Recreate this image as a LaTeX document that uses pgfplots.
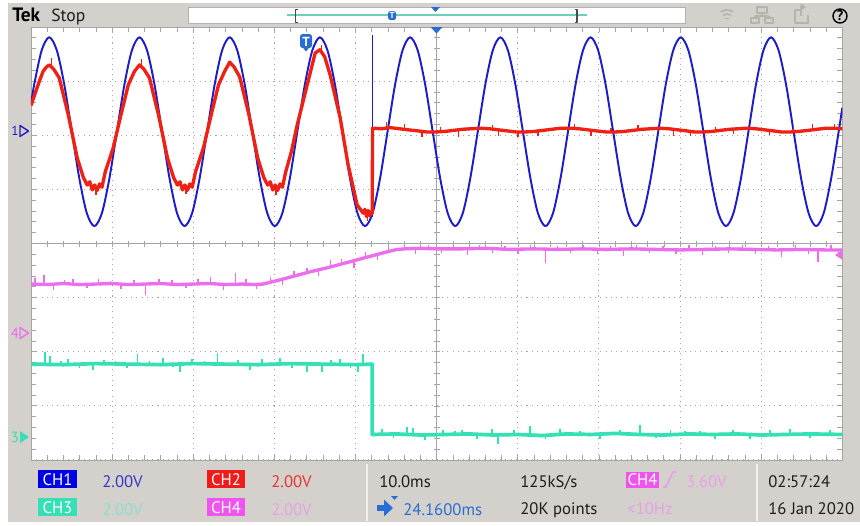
\documentclass[border=0pt]{standalone}
\usepackage{pgfplots}
\pgfplotsset{compat=1.18}
\usepackage{fontspec}
\setmainfont{PT Sans}
\usetikzlibrary{arrows.meta}

\definecolor{panel}{RGB}{212,208,203}
\definecolor{chone}{RGB}{28,28,200}
\definecolor{chtwo}{RGB}{240,32,20}
\definecolor{chthree}{RGB}{52,224,180}
\definecolor{chfour}{RGB}{236,110,236}
\definecolor{gridc}{RGB}{165,165,165}
\definecolor{tekblue}{RGB}{40,110,210}
\definecolor{icon}{RGB}{182,178,174}
\definecolor{txt}{RGB}{30,30,30}
\definecolor{boxone}{RGB}{0,0,228}
\definecolor{boxtwo}{RGB}{240,28,28}
\definecolor{boxthree}{RGB}{52,224,180}
\definecolor{boxfour}{RGB}{240,84,240}
\definecolor{valone}{RGB}{55,55,205}
\definecolor{valtwo}{RGB}{232,52,52}
\definecolor{valthree}{RGB}{140,222,202}
\definecolor{valfour}{RGB}{232,160,232}

\begin{document}
\begin{tikzpicture}[line join=round]
% ---- frame, drawn in screen pixels (y down)
\begin{scope}[x=0.02cm,y=-0.02cm]
\path[use as bounding box] (0,0) rectangle (860,525);
\fill[white] (0,0) rectangle (860,525);
\fill[panel] (8,3) rectangle (860,522);
\fill[white] (31,27) rectangle (842.5,460);
% centre cross with fine ticks
\draw[gridc,line width=0.5pt] (31,243.5) -- (842.5,243.5) (436.5,27) -- (436.5,460);
\foreach \k in {0,...,50} \draw[gridc,line width=0.4pt] ({31+\k*16.23},240.5) -- ({31+\k*16.23},246.5);
\foreach \k in {0,...,40} \draw[gridc,line width=0.4pt] (433.5,{27+\k*10.825}) -- (439.5,{27+\k*10.825});
\end{scope}

\begin{axis}[
    at={(0.62cm,-9.2cm)}, anchor=south west,
    scale only axis, width=16.23cm, height=8.66cm,
    xmin=-50, xmax=50, ymin=-4, ymax=4,
    xtick={-50,-40,...,50}, ytick={-4,-3,...,4},
    minor x tick num=4, minor y tick num=4,
    xticklabels={}, yticklabels={},
    tick align=inside, major tick length=0.1cm, minor tick length=0.1cm,
    tick style={gridc,line width=0.4pt},
    grid=major, major grid style={gridc,line width=0.5pt,dash pattern=on 0.6pt off 2.4pt},
    axis line style={gridc},
    unbounded coords=jump,
]
% CH1
\addplot[chone, line width=1.1pt, smooth] coordinates {
 (-50.00,2.58) (-49.60,2.94) (-48.68,3.57)
 (-47.75,3.81) (-46.82,3.57) (-45.90,2.94) (-44.97,2.07) (-44.04,1.20) (-43.12,0.56) (-42.19,0.32) (-41.26,0.56) (-40.34,1.20) (-39.41,2.07) (-38.48,2.94) (-37.56,3.57)
 (-36.63,3.81) (-35.70,3.57) (-34.78,2.94) (-33.85,2.07) (-32.92,1.20) (-32.00,0.56) (-31.07,0.32) (-30.14,0.56) (-29.22,1.20) (-28.29,2.07) (-27.36,2.94) (-26.44,3.57)
 (-25.51,3.81) (-24.58,3.57) (-23.66,2.94) (-22.73,2.07) (-21.80,1.20) (-20.88,0.56) (-19.95,0.32) (-19.02,0.56) (-18.10,1.20) (-17.17,2.07) (-16.24,2.94) (-15.32,3.57)
 (-14.39,3.81) (-13.46,3.57) (-12.54,2.94) (-11.61,2.07) (-10.68,1.20) (-9.76,0.56) (-8.83,0.32) (-7.90,0.56) (-6.98,1.20) (-6.05,2.07) (-5.12,2.94) (-4.20,3.57)
 (-3.27,3.81) (-2.34,3.57) (-1.42,2.94) (-0.49,2.07) (0.44,1.20) (1.36,0.56) (2.29,0.32) (3.22,0.56) (4.14,1.20) (5.07,2.07) (6.00,2.94) (6.92,3.57)
 (7.85,3.81) (8.78,3.57) (9.70,2.94) (10.63,2.07) (11.56,1.20) (12.48,0.56) (13.41,0.32) (14.34,0.56) (15.26,1.20) (16.19,2.07) (17.12,2.94) (18.04,3.57)
 (18.97,3.81) (19.90,3.57) (20.82,2.94) (21.75,2.07) (22.68,1.20) (23.60,0.56) (24.53,0.32) (25.46,0.56) (26.38,1.20) (27.31,2.07) (28.24,2.94) (29.16,3.57)
 (30.09,3.81) (31.02,3.57) (31.94,2.94) (32.87,2.07) (33.80,1.20) (34.72,0.56) (35.65,0.32) (36.58,0.56) (37.50,1.20) (38.43,2.07) (39.36,2.94) (40.28,3.57)
 (41.21,3.81) (42.14,3.57) (43.06,2.94) (43.99,2.07) (44.92,1.20) (45.84,0.56) (46.77,0.32) (47.70,0.56) (48.62,1.20) (49.55,2.07) (50.00,2.51)
};
\addplot[chone, line width=0.7pt] coordinates {(-7.90,0.49) (-7.90,3.85)};
% CH2
\addplot[chtwo, line width=1.9pt] coordinates {
 (-50.00,2.55) (-49.13,2.93) (-48.51,3.18) (-48.10,3.26) (-47.75,3.30) (-47.20,3.22) (-46.52,3.06) (-45.41,2.38) (-44.30,1.58) (-43.55,1.22) (-43.07,1.08) (-42.75,1.14) (-42.45,0.99) (-42.15,1.08) (-41.85,0.98) (-41.55,1.10) (-41.25,1.04) (-40.85,1.32) (-39.86,1.77) (-39.00,2.32) (-38.01,2.93) (-37.25,3.18)
 (-36.63,3.30) (-36.08,3.22) (-35.40,3.06) (-34.29,2.38) (-33.18,1.58) (-32.43,1.22) (-31.95,1.08) (-31.63,1.14) (-31.33,0.99) (-31.03,1.08) (-30.73,0.98) (-30.43,1.10) (-30.13,1.04) (-29.73,1.32) (-28.74,1.77) (-27.88,2.32) (-26.89,2.93) (-26.13,3.18)
 (-25.51,3.35) (-24.96,3.26) (-24.28,3.08) (-23.17,2.40) (-22.06,1.58) (-21.31,1.22) (-20.83,1.08) (-20.51,1.14) (-20.21,0.99) (-19.91,1.08) (-19.61,0.98) (-19.31,1.10) (-19.01,1.04) (-18.61,1.32) (-17.90,1.70) (-17.19,2.19) (-15.96,2.93) (-14.97,3.52)
 (-14.39,3.58) (-13.80,3.45) (-13.12,3.11) (-11.89,2.32) (-10.91,1.45) (-9.80,0.71) (-9.06,0.56) (-8.85,0.63) (-8.65,0.50) (-8.45,0.61) (-8.25,0.51) (-8.05,0.59) (-7.95,0.56)
 (-7.90,2.13) (-6.80,2.12) (-5.73,2.14) (-4.60,2.12) (-3.50,2.10) (-2.30,2.08) (-1.20,2.06) (-0.18,2.06) (1.00,2.07) (2.10,2.09) (3.20,2.11) (4.30,2.12) (5.36,2.13) (6.50,2.12) (7.60,2.10) (8.70,2.08) (9.80,2.06) (10.91,2.06) (12.00,2.07) (13.10,2.09) (14.20,2.11) (15.30,2.13) (16.45,2.13) (17.50,2.12) (18.60,2.10) (19.70,2.08) (20.90,2.06) (22.00,2.06) (23.10,2.07) (24.20,2.09) (25.30,2.11) (26.40,2.12) (27.54,2.13) (28.60,2.12) (29.70,2.10) (30.80,2.08) (31.80,2.06) (32.84,2.06) (33.90,2.07) (35.00,2.09) (36.10,2.11) (37.20,2.12) (38.26,2.13) (39.30,2.12) (40.40,2.10) (41.50,2.08) (42.50,2.06) (43.56,2.06) (44.60,2.07) (45.80,2.09) (46.90,2.11) (48.00,2.13) (49.00,2.13) (50.00,2.12)
};
% CH2 glitches
\addplot[chtwo, line width=0.8pt] coordinates {
 (-47.5,3.28) (-47.5,3.42) (-47.5,nan) (-42.0,1.05) (-42.0,0.90) (-42.0,nan) (-36.4,3.28) (-36.4,3.41) (-36.4,nan) (-30.9,1.05) (-30.9,0.91) (-30.9,nan)
 (-19.8,1.05) (-19.8,0.90) (-19.8,nan) (-14.2,3.55) (-14.2,3.67) (-14.2,nan) (-8.5,0.57) (-8.5,0.42) (-8.5,nan)
 (-6.20,2.13) (-6.20,2.25) (-6.20,nan) (-4.00,2.11) (-4.00,2.20) (-4.00,nan) (-1.80,2.07) (-1.80,1.97) (-1.80,nan) (0.50,2.07) (0.50,2.15) (0.50,nan)
 (2.70,2.10) (2.70,1.97) (2.70,nan) (6.90,2.11) (6.90,2.19) (6.90,nan) (7.60,2.10) (7.60,1.98) (7.60,nan) (10.00,2.06) (10.00,1.96) (10.00,nan)
 (12.50,2.08) (12.50,1.98) (12.50,nan) (17.00,2.13) (17.00,2.20) (17.00,nan) (19.00,2.09) (19.00,1.99) (19.00,nan) (21.50,2.06) (21.50,2.14) (21.50,nan)
 (24.80,2.10) (24.80,2.18) (24.80,nan) (29.20,2.11) (29.20,1.99) (29.20,nan) (31.30,2.07) (31.30,1.98) (31.30,nan) (34.40,2.08) (34.40,2.15) (34.40,nan)
 (36.60,2.11) (36.60,2.03) (36.60,nan) (41.00,2.09) (41.00,2.00) (41.00,nan) (44.00,2.07) (44.00,2.16) (44.00,nan) (46.30,2.10) (46.30,2.20) (46.30,nan)
 (49.00,2.13) (49.00,2.21)
};
% CH4
\addplot[chfour, line width=1.9pt] coordinates {
 (-50,-0.75) (-48,-0.76) (-46,-0.74) (-44,-0.76) (-42,-0.75) (-40,-0.74) (-38,-0.76) (-36,-0.75) (-34,-0.74) (-32,-0.76) (-30,-0.75) (-28,-0.74) (-26,-0.76) (-24,-0.75) (-22.4,-0.76) (-21.4,-0.75)
 (-19.5,-0.68) (-17.5,-0.60) (-15.5,-0.52) (-13.5,-0.45) (-11.5,-0.37) (-9.5,-0.29) (-7.5,-0.21) (-6,-0.15) (-5,-0.115) (-4,-0.10)
 (-2,-0.09) (0,-0.10) (3,-0.10) (6,-0.09) (9,-0.11) (12,-0.10) (15,-0.11) (18,-0.10) (21,-0.11) (24,-0.10) (27,-0.11) (30,-0.12) (33,-0.11) (36,-0.10) (39,-0.11) (42,-0.12) (45,-0.11) (48,-0.12) (50,-0.12)
};
% CH4 glitches
\addplot[chfour, line width=0.8pt] coordinates {
 (-49.5,-0.75) (-49.5,-0.64) (-49.5,nan) (-48.4,-0.75) (-48.4,-0.58) (-48.4,nan) (-47.2,-0.75) (-47.2,-0.86) (-47.2,nan) (-45.9,-0.75) (-45.9,-0.68) (-45.9,nan)
 (-44.8,-0.75) (-44.8,-0.66) (-44.8,nan) (-43.1,-0.75) (-43.1,-0.82) (-43.1,nan) (-41.7,-0.75) (-41.7,-0.66) (-41.7,nan) (-40.2,-0.75) (-40.2,-0.69) (-40.2,nan)
 (-38.9,-0.75) (-38.9,-0.84) (-38.9,nan) (-37.3,-0.75) (-37.3,-0.67) (-37.3,nan) (-35.9,-0.75) (-35.9,-0.95) (-35.9,nan) (-34.2,-0.75) (-34.2,-0.65) (-34.2,nan)
 (-32.6,-0.75) (-32.6,-0.68) (-32.6,nan) (-30.9,-0.75) (-30.9,-0.83) (-30.9,nan) (-29.4,-0.75) (-29.4,-0.66) (-29.4,nan) (-27.9,-0.75) (-27.9,-0.62) (-27.9,nan)
 (-26.3,-0.75) (-26.3,-0.86) (-26.3,nan) (-24.8,-0.75) (-24.8,-0.55) (-24.8,nan) (-23.5,-0.75) (-23.5,-0.66) (-23.5,nan) (-22.2,-0.75) (-22.2,-0.84) (-22.2,nan)
 (-20.5,-0.715) (-20.5,-0.62) (-20.5,nan) (-19.0,-0.658) (-19.0,-0.76) (-19.0,nan) (-17.6,-0.604) (-17.6,-0.50) (-17.6,nan) (-16.0,-0.542) (-16.0,-0.45) (-16.0,nan)
 (-14.6,-0.488) (-14.6,-0.60) (-14.6,nan) (-13.1,-0.430) (-13.1,-0.30) (-13.1,nan) (-11.7,-0.377) (-11.7,-0.28) (-11.7,nan) (-10.2,-0.319) (-10.2,-0.45) (-10.2,nan)
 (-8.8,-0.265) (-8.8,-0.16) (-8.8,nan) (-7.3,-0.207) (-7.3,-0.30) (-7.3,nan) (-5.9,-0.153) (-5.9,-0.06) (-5.9,nan)
 (-4.0,-0.11) (-4.0,-0.02) (-4.0,nan) (-2.6,-0.11) (-2.6,-0.19) (-2.6,nan) (-1.0,-0.11) (-1.0,-0.03) (-1.0,nan) (0.6,-0.11) (0.6,-0.18) (0.6,nan)
 (2.1,-0.11) (2.1,-0.02) (2.1,nan) (3.8,-0.11) (3.8,-0.22) (3.8,nan) (5.3,-0.11) (5.3,-0.03) (5.3,nan) (6.9,-0.11) (6.9,-0.17) (6.9,nan)
 (8.4,-0.11) (8.4,-0.04) (8.4,nan) (10.0,-0.11) (10.0,-0.20) (10.0,nan) (11.6,-0.11) (11.6,-0.03) (11.6,nan) (13.4,-0.11) (13.4,-0.36) (13.4,nan)
 (14.9,-0.11) (14.9,-0.04) (14.9,nan) (16.5,-0.11) (16.5,-0.18) (16.5,nan) (18.1,-0.11) (18.1,-0.02) (18.1,nan) (19.8,-0.11) (19.8,-0.19) (19.8,nan)
 (21.4,-0.11) (21.4,-0.05) (21.4,nan) (23.0,-0.11) (23.0,-0.24) (23.0,nan) (24.6,-0.11) (24.6,-0.03) (24.6,nan) (26.2,-0.11) (26.2,-0.17) (26.2,nan)
 (27.9,-0.11) (27.9,-0.04) (27.9,nan) (29.5,-0.11) (29.5,-0.20) (29.5,nan) (31.1,-0.11) (31.1,-0.03) (31.1,nan) (32.8,-0.11) (32.8,-0.22) (32.8,nan)
 (34.4,-0.11) (34.4,-0.05) (34.4,nan) (36.0,-0.11) (36.0,-0.18) (36.0,nan) (37.7,-0.11) (37.7,-0.02) (37.7,nan) (39.3,-0.11) (39.3,-0.20) (39.3,nan)
 (40.9,-0.11) (40.9,-0.04) (40.9,nan) (42.5,-0.11) (42.5,-0.25) (42.5,nan) (44.2,-0.11) (44.2,-0.03) (44.2,nan) (45.8,-0.11) (45.8,-0.19) (45.8,nan)
 (47.0,-0.11) (47.0,-0.34) (47.0,nan) (48.6,-0.11) (48.6,-0.03) (48.6,nan) (49.5,-0.11) (49.5,-0.20)
};
% CH3
\addplot[chthree, line width=2.1pt] coordinates {
 (-50,-2.23) (-46,-2.24) (-42,-2.22) (-38,-2.23) (-34,-2.24) (-30,-2.22) (-26,-2.23) (-22,-2.24) (-18,-2.22) (-14,-2.23) (-10,-2.24) (-7.95,-2.23)
 (-7.95,-3.53) (-5,-3.52) (-2,-3.54) (1,-3.53) (4,-3.52) (7,-3.54) (10,-3.53) (13,-3.55) (16,-3.52) (19,-3.53) (22,-3.51) (25,-3.53) (28,-3.54) (31,-3.52) (34,-3.53) (37,-3.52) (40,-3.54) (43,-3.53) (46,-3.52) (50,-3.53)
};
% CH3 glitches
\addplot[chthree, line width=0.9pt] coordinates {
 (-48.24,-2.23) (-48.24,-2.01) (-48.24,nan) (-47.63,-2.23) (-47.63,-2.08) (-47.63,nan) (-46.3,-2.23) (-46.3,-2.17) (-46.3,nan) (-45.41,-2.23) (-45.41,-2.14) (-45.41,nan)
 (-44.0,-2.23) (-44.0,-2.30) (-44.0,nan) (-42.33,-2.23) (-42.33,-2.34) (-42.33,nan) (-41.0,-2.23) (-41.0,-2.16) (-41.0,nan) (-39.6,-2.23) (-39.6,-2.18) (-39.6,nan)
 (-38.2,-2.23) (-38.2,-2.31) (-38.2,nan) (-36.88,-2.23) (-36.88,-2.05) (-36.88,nan) (-35.4,-2.23) (-35.4,-2.17) (-35.4,nan) (-33.70,-2.23) (-33.70,-2.11) (-33.70,nan)
 (-32.5,-2.23) (-32.5,-2.29) (-32.5,nan) (-31.61,-2.23) (-31.61,-2.38) (-31.61,nan) (-30.13,-2.23) (-30.13,-2.13) (-30.13,nan) (-28.6,-2.23) (-28.6,-2.17) (-28.6,nan)
 (-27.0,-2.23) (-27.0,-2.02) (-27.0,nan) (-24.5,-2.23) (-24.5,-2.16) (-24.5,nan) (-23.0,-2.23) (-23.0,-2.33) (-23.0,nan) (-21.5,-2.23) (-21.5,-2.13) (-21.5,nan)
 (-19.29,-2.23) (-19.29,-2.11) (-19.29,nan) (-17.8,-2.23) (-17.8,-2.30) (-17.8,nan) (-15.96,-2.23) (-15.96,-2.38) (-15.96,nan) (-14.11,-2.23) (-14.11,-2.37) (-14.11,nan)
 (-13.0,-2.23) (-13.0,-2.15) (-13.0,nan) (-11.89,-2.23) (-11.89,-2.14) (-11.89,nan) (-10.6,-2.23) (-10.6,-2.30) (-10.6,nan) (-9.67,-2.23) (-9.67,-2.37) (-9.67,nan)
 (-9.06,-2.23) (-9.06,-2.05) (-9.06,nan)
 (-6.72,-3.53) (-6.72,-3.42) (-6.72,nan) (-5.3,-3.53) (-5.3,-3.60) (-5.3,nan) (-3.64,-3.53) (-3.64,-3.39) (-3.64,nan) (-2.90,-3.53) (-2.90,-3.41) (-2.90,nan)
 (-1.42,-3.53) (-1.42,-3.64) (-1.42,nan) (0.8,-3.53) (0.8,-3.45) (0.8,nan) (2.28,-3.53) (2.28,-3.46) (2.28,nan) (3.14,-3.53) (3.14,-3.45) (3.14,nan)
 (5.0,-3.53) (5.0,-3.62) (5.0,nan) (6.84,-3.53) (6.84,-3.42) (6.84,nan) (7.58,-3.53) (7.58,-3.70) (7.58,nan) (9.5,-3.53) (9.5,-3.45) (9.5,nan)
 (11.52,-3.53) (11.52,-3.38) (11.52,nan) (13.4,-3.53) (13.4,-3.61) (13.4,nan) (15.22,-3.53) (15.22,-3.42) (15.22,nan) (17.7,-3.53) (17.7,-3.46) (17.7,nan)
 (20.15,-3.53) (20.15,-3.62) (20.15,nan) (22.6,-3.53) (22.6,-3.45) (22.6,nan) (25.08,-3.53) (25.08,-3.35) (25.08,nan) (27.0,-3.53) (27.0,-3.60) (27.0,nan)
 (28.8,-3.53) (28.8,-3.45) (28.8,nan) (30.6,-3.53) (30.6,-3.47) (30.6,nan) (32.47,-3.53) (32.47,-3.46) (32.47,nan) (34.3,-3.53) (34.3,-3.61) (34.3,nan)
 (36.5,-3.53) (36.5,-3.44) (36.5,nan) (38.63,-3.53) (38.63,-3.62) (38.63,nan) (41.1,-3.53) (41.1,-3.45) (41.1,nan) (43.56,-3.53) (43.56,-3.42) (43.56,nan)
 (46.0,-3.53) (46.0,-3.60) (46.0,nan) (48.49,-3.53) (48.49,-3.44)
};
\end{axis}

% ---- overlays in screen pixels
\begin{scope}[x=0.02cm,y=-0.02cm, lbl/.style={font=\fontsize{9.5}{11}\selectfont, inner sep=0pt, anchor=base west}]
% channel markers on the left
\node[font=\fontsize{7.5}{8}\selectfont, text=chone, inner sep=0pt] at (15,131) {1};
\draw[chone, line width=0.8pt] (20,125.5) -- (28.5,131) -- (20,136.5) -- cycle;
\node[font=\fontsize{8.5}{9}\selectfont, text=chfour, inner sep=0pt] at (15,333) {4};
\draw[chfour, line width=0.8pt] (20,327.5) -- (28.5,333) -- (20,338.5) -- cycle;
\node[font=\fontsize{8.5}{9}\selectfont, text=chthree, inner sep=0pt] at (15,437) {3};
\fill[chthree] (20,431) -- (29,437) -- (20,443) -- cycle;
% trigger level marker on the right
\fill[chfour] (835,255) -- (842,250.5) -- (842,259.5) -- cycle;
% trigger marker and expansion point on the graticule
\fill[tekblue, rounded corners=1.5pt] (300,34) rectangle (312,48);
\fill[tekblue] (302.5,47) -- (309.5,47) -- (306,51.5) -- cycle;
\node[font=\bfseries\fontsize{7.5}{8}\selectfont, text=white, inner sep=0pt] at (306,41.5) {T};
\fill[tekblue] (430.5,27) -- (442.5,27) -- (436.5,33.5) -- cycle;
% top bar
\node[font=\bfseries\fontsize{11}{12}\selectfont, text=black, inner sep=0pt, anchor=base west] at (12,21) {Tek};
\node[font=\fontsize{10}{11}\selectfont, text=txt, inner sep=0pt, anchor=base west] at (51,21.5) {Stop};
\draw[gray!60, fill=white, line width=0.5pt] (188,7) rectangle (685,23);
\draw[chthree!70!gray!80, line width=1pt] (287,15) -- (587,15);
\draw[gray!60!black, line width=0.6pt] (298,9.5) -- (295.5,9.5) -- (295.5,22.5) -- (298,22.5);
\draw[gray!60!black, line width=0.6pt] (574.5,9.5) -- (577,9.5) -- (577,22.5) -- (574.5,22.5);
\fill[tekblue, rounded corners=1pt] (388,11) rectangle (396,20);
\node[font=\bfseries\fontsize{5}{5}\selectfont, text=white, inner sep=0pt] at (392,15.5) {T};
\fill[tekblue] (431,7) -- (440,7) -- (435.5,12) -- cycle;
% top right icons
\draw[icon, line width=1pt] (727,21) ++(235:3) arc[start angle=235, end angle=305, radius=3];
\draw[icon, line width=1pt] (727,21) ++(235:7) arc[start angle=235, end angle=305, radius=7];
\draw[icon, line width=1pt] (727,21) ++(235:11) arc[start angle=235, end angle=305, radius=11];
\draw[icon, line width=0.9pt] (757,7) rectangle (767,13) (762,13) -- (762,16) (755,16) -- (769,16) (755,16) -- (755,18) (769,16) -- (769,18) (751,18) rectangle (759,23) (765,18) rectangle (773,23);
\draw[icon, line width=0.9pt] (800,10) -- (795,10) -- (795,23) -- (808,23) -- (808,15);
\draw[icon, line width=1.1pt, -{Triangle[length=3pt,width=4pt]}] (801,16) -- (801,7) -- (806,7);
\draw[black, line width=0.8pt] (840,16) circle[radius=7];
\node[font=\bfseries\fontsize{8}{9}\selectfont, text=black, inner sep=0pt] at (840,16) {?};
% bottom panel
\draw[white!70!panel, line width=1pt] (367,464) -- (367,521) (757,464) -- (757,521);
\fill[boxone] (38,470) rectangle (77,488);
\node[font=\fontsize{9.5}{11}\selectfont, text=white, inner sep=0pt] at (57.5,479.5) {CH1};
\node[lbl, text=valone] at (102,487) {2.00V};
\fill[boxtwo] (207,470) rectangle (245,488);
\node[font=\fontsize{9.5}{11}\selectfont, text=white, inner sep=0pt] at (226,479.5) {CH2};
\node[lbl, text=valtwo] at (271,487) {2.00V};
\fill[boxthree] (38,498) rectangle (77,516);
\node[font=\fontsize{9.5}{11}\selectfont, text=white, inner sep=0pt] at (57.5,507.5) {CH3};
\node[lbl, text=valthree] at (102,515) {2.00V};
\fill[boxfour] (207,498) rectangle (245,516);
\node[font=\fontsize{9.5}{11}\selectfont, text=white, inner sep=0pt] at (226,507.5) {CH4};
\node[lbl, text=valfour] at (271,515) {2.00V};
\node[lbl, text=txt] at (379,487) {10.0ms};
\draw[tekblue, line width=3pt, -{Triangle[length=5pt,width=9pt]}] (377,508) -- (393,508);
\fill[tekblue] (391,496) -- (398,496) -- (394.5,500) -- cycle;
\node[lbl, text=tekblue] at (403,515) {24.1600ms};
\node[lbl, text=txt] at (520,487) {125kS/s};
\node[lbl, text=txt] at (520,514) {20K points};
\fill[boxfour] (626,472) rectangle (659,488);
\node[font=\fontsize{9.5}{11}\selectfont, text=white, inner sep=0pt] at (642.5,480) {CH4};
\draw[valfour, line width=1pt] (663,487) -- (666,487) -- (673,472) -- (676,472);
\node[lbl, text=valfour] at (686,487) {3.60V};
\node[lbl, text=valfour] at (627,514) {<10Hz};
\node[lbl, text=txt] at (768,487) {02:57:24};
\node[lbl, text=txt] at (768,514) {16 Jan 2020};
\end{scope}
\end{tikzpicture}
\end{document}
